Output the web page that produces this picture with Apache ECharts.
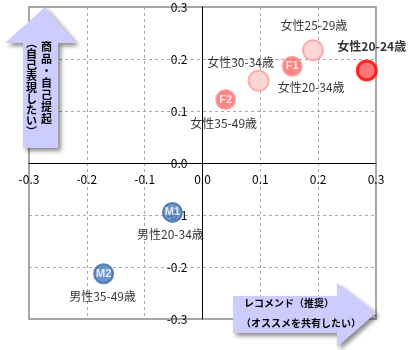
<!DOCTYPE html>
<html>
<head>
<meta charset="utf-8">
<script src="https://cdn.jsdelivr.net/npm/echarts@6/dist/echarts.min.js"></script>
<style>
html,body{margin:0;padding:0;background:#fff;}
#c{width:412px;height:350px;}
</style>
</head>
<body>
<div id="c"></div>
<script>
// ---- data ----
const categories = ['女性20-24歳', '女性25-29歳', '女性20-34歳', '女性30-34歳', '女性35-49歳', '男性20-34歳', '男性35-49歳'];
const codes = ['', '', 'F1', '', 'F2', 'M1', 'M2'];
const xValues = [0.284, 0.191, 0.155, 0.097, 0.040, -0.052, -0.171];
const yValues = [0.178, 0.217, 0.186, 0.158, 0.122, -0.095, -0.213];
const xTickLabels = ['-0.3', '-0.2', '-0.1', '0.0', '0.1', '0.2', '0.3'];
const yTickLabels = ['-0.3', '-0.2', '-0.1', '0.0', '0.1', '0.2', '0.3'];
const yArrowCol1 = '商品・自己提起';
const yArrowCol2 = '︵自己表現したい︶';
const xArrowLines = ['レコメンド（推奨）', '（オススメを共有したい）'];

// ---- styles ----
const FONT = '"Noto Sans CJK JP", "Noto Sans", sans-serif';
const GRID = { left: 29, right: 36, top: 7, bottom: 31 };
const W = 412, H = 350;
const plotW = W - GRID.left - GRID.right;
const plotH = H - GRID.top - GRID.bottom;
const pointStyles = [
  { size: 19, fill: '#ff5454', border: '#ff0000', bw: 3 },
  { size: 20, fill: '#ffcccc', border: '#ff9c9c', bw: 2 },
  { size: 19, fill: '#f86868', border: '#ff9494', bw: 2 },
  { size: 20, fill: '#ffcccc', border: '#ff9c9c', bw: 2 },
  { size: 19, fill: '#f86868', border: '#ff9494', bw: 2 },
  { size: 19, fill: '#4c7cbc', border: '#3f6ba8', bw: 2 },
  { size: 19, fill: '#4c7cbc', border: '#3f6ba8', bw: 2 }
];
const labelOffsets = [[5, -24], [1, -25], [19, 21], [-18, -18], [-2, 24], [-2, 22], [-1, 23]];
const labelBold = [true, false, false, false, false, false, false];

function fmt(list) {
  return function (v) {
    const i = Math.round((v + 0.3) * 10);
    return list[i] !== undefined ? list[i] : '';
  };
}

const markerData = xValues.map((x, i) => ({
  value: [x, yValues[i]],
  symbolSize: pointStyles[i].size,
  itemStyle: { color: pointStyles[i].fill, borderColor: pointStyles[i].border, borderWidth: pointStyles[i].bw },
  label: { show: !!codes[i], formatter: codes[i] }
}));

const nameData = xValues.map((x, i) => ({
  value: [x, yValues[i]],
  label: {
    show: true, formatter: categories[i], offset: labelOffsets[i],
    fontWeight: labelBold[i] ? 'bold' : 'normal'
  }
}));

const chart = echarts.init(document.getElementById('c'), null, { renderer: 'canvas' });

const splitStyle = { show: true, lineStyle: { color: '#a8a8a8', type: [3, 3], width: 1 } };

const option = {
  animation: false,
  backgroundColor: '#fff',
  textStyle: { fontFamily: FONT },
  grid: Object.assign({ show: true, borderColor: '#a6a6a6', borderWidth: 2, backgroundColor: 'transparent' }, GRID),
  xAxis: [
    {
      type: 'value', min: -0.3, max: 0.3, interval: 0.1,
      axisLine: { show: false }, axisTick: { show: false }, axisLabel: { show: false },
      splitLine: splitStyle
    },
    {
      type: 'value', min: -0.3, max: 0.3, interval: 0.1, position: 'bottom',
      offset: -plotH / 2,
      axisLine: { show: true, onZero: false, lineStyle: { color: '#000', width: 1 } },
      axisTick: { show: false },
      axisLabel: { formatter: fmt(xTickLabels), color: '#000', fontSize: 12, margin: 10, fontFamily: FONT, showMinLabel: true, showMaxLabel: true },
      splitLine: { show: false }
    }
  ],
  yAxis: [
    {
      type: 'value', min: -0.3, max: 0.3, interval: 0.1,
      axisLine: { show: false }, axisTick: { show: false }, axisLabel: { show: false },
      splitLine: splitStyle
    },
    {
      type: 'value', min: -0.3, max: 0.3, interval: 0.1, position: 'left',
      offset: -plotW / 2,
      axisLine: { show: true, onZero: false, lineStyle: { color: '#000', width: 1 } },
      axisTick: { show: false },
      axisLabel: { formatter: fmt(yTickLabels), color: '#000', fontSize: 12, margin: 15, fontFamily: FONT, showMinLabel: true, showMaxLabel: true },
      splitLine: { show: false }
    }
  ],
  series: [
    {
      type: 'scatter', z: 3, xAxisIndex: 0, yAxisIndex: 0,
      data: markerData,
      label: { position: 'inside', color: '#fff', fontWeight: 'bold', fontSize: 11, fontFamily: 'Liberation Sans, sans-serif' },
      emphasis: { disabled: true }
    },
    {
      type: 'scatter', z: 4, silent: true, xAxisIndex: 0, yAxisIndex: 0,
      symbolSize: 1,
      itemStyle: { color: 'rgba(0,0,0,0)' },
      data: nameData,
      label: { position: 'inside', color: '#000', fontSize: 12, fontFamily: FONT },
      emphasis: { disabled: true }
    }
  ],
  graphic: [
    {
      type: 'polygon', z: 100,
      shape: { points: [[45, 7], [76, 43], [58, 43], [58, 148], [23, 148], [23, 43], [5, 43]] },
      style: { fill: '#ccccff', shadowBlur: 4, shadowOffsetX: 3, shadowOffsetY: 3, shadowColor: 'rgba(0,0,0,0.45)' }
    },
    {
      type: 'text', z: 101, left: 41, top: 41,
      style: { text: yArrowCol1.split('').join('\n'), font: 'bold 11px ' + FONT, lineHeight: 12, fill: '#000', align: 'center' }
    },
    {
      type: 'text', z: 101, left: 26, top: 37,
      style: { text: yArrowCol2.split('').join('\n'), font: 'bold 11px ' + FONT, lineHeight: 11.2, fill: '#000', align: 'center' }
    },
    {
      type: 'polygon', z: 100,
      shape: { points: [[233, 296], [337, 296], [337, 283], [376, 313], [337, 347], [337, 333], [233, 333]] },
      style: { fill: '#ccccff', shadowBlur: 4, shadowOffsetX: 3, shadowOffsetY: 3, shadowColor: 'rgba(0,0,0,0.45)' }
    },
    {
      type: 'text', z: 101, left: 244, top: 298,
      style: { text: xArrowLines[0], font: 'bold 10px ' + FONT, fill: '#000' }
    },
    {
      type: 'text', z: 101, left: 241, top: 318,
      style: { text: xArrowLines[1], font: 'bold 10px ' + FONT, fill: '#000' }
    }
  ]
};
chart.setOption(option);
</script>
</body>
</html>
